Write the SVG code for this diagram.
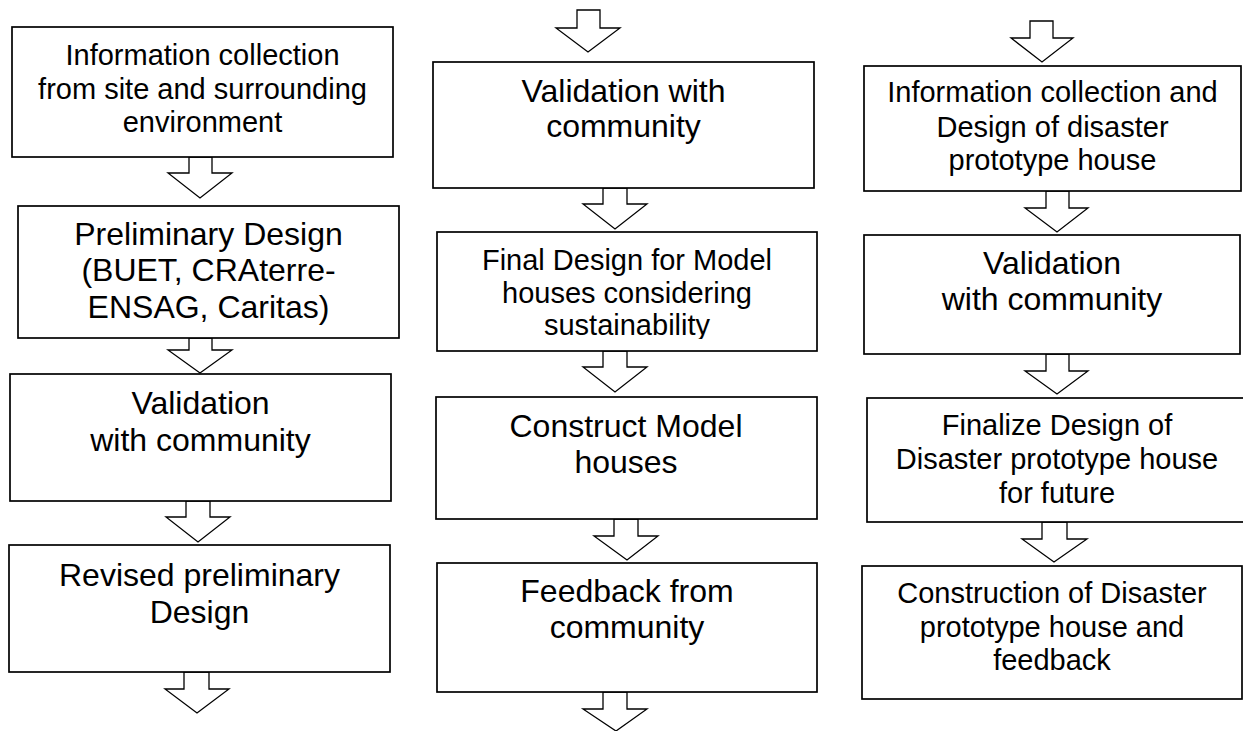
<svg xmlns="http://www.w3.org/2000/svg" width="1243" height="731" viewBox="0 0 1243 731">
<style>
.box{fill:#fff;stroke:#000;stroke-width:1.7}
.arr{fill:#fff;stroke:#000;stroke-width:1.3;stroke-linejoin:miter}
text{font-family:"Liberation Sans",Arial,sans-serif;fill:#000;text-anchor:middle}
.s{font-size:29px}
.l{font-size:32px}
</style>
<defs>
<clipPath id="clipF"><rect x="437" y="232" width="380" height="107"/></clipPath>
</defs>
<rect width="1243" height="731" fill="#fff"/>
<g id="connectors">
<polygon class="arr" points="189,157 189,173 168,173 200,198 232,173 212,173 212,157"/>
<polygon class="arr" points="189,338 189,350 168,350 200,373 232,350 212,350 212,338"/>
<polygon class="arr" points="186,501 186,517 166,517 198,542 230,517 210,517 210,501"/>
<polygon class="arr" points="184,672 184,689 165,689 197,713 229,689 209,689 209,672"/>
<polygon class="arr" points="577,10 577,28 556,28 588,52 620,28 600,28 600,10"/>
<polygon class="arr" points="603,188 603,204 583,204 615,229 647,204 627,204 627,188"/>
<polygon class="arr" points="603,351 603,367 583,367 615,392 647,367 627,367 627,351"/>
<polygon class="arr" points="614,519 614,536 594,536 627,560 658,536 638,536 638,519"/>
<polygon class="arr" points="603,692 603,709 583,709 616,731 647,709 627,709 627,692"/>
<polygon class="arr" points="1030,21 1030,38 1011,38 1042,62 1073,38 1053,38 1053,21"/>
<polygon class="arr" points="1046,191 1046,208 1025,208 1057,232 1088,208 1069,208 1069,191"/>
<polygon class="arr" points="1046,354 1046,371 1025,371 1057,394 1088,371 1069,371 1069,354"/>
<polygon class="arr" points="1042,522 1042,539 1022,539 1054,562 1087,539 1067,539 1067,522"/>
</g>
<g id="nodeA">
<rect class="box" x="12" y="27" width="381" height="130"/>
<text class="s" x="202.5" y="65">Information collection</text>
<text class="s" x="202.5" y="99">from site and surrounding</text>
<text class="s" x="202.5" y="132">environment</text>
</g>
<g id="nodeB">
<rect class="box" x="18" y="206" width="381" height="132"/>
<text class="l" x="208.5" y="245">Preliminary Design</text>
<text class="l" x="208.5" y="281">(BUET, CRAterre-</text>
<text class="l" x="208.5" y="318">ENSAG, Caritas)</text>
</g>
<g id="nodeC">
<rect class="box" x="10" y="374" width="381" height="127"/>
<text class="l" x="200.5" y="414">Validation</text>
<text class="l" x="200.5" y="451">with community</text>
</g>
<g id="nodeD">
<rect class="box" x="9" y="545" width="381" height="127"/>
<text class="l" x="199.5" y="586">Revised preliminary</text>
<text class="l" x="199.5" y="623">Design</text>
</g>
<g id="nodeE">
<rect class="box" x="433" y="62" width="381" height="126"/>
<text class="l" x="623.5" y="102">Validation with</text>
<text class="l" x="623.5" y="137">community</text>
</g>
<g id="nodeF">
<rect class="box" x="437" y="232" width="380" height="119"/>
<g clip-path="url(#clipF)">
<text class="s" x="627" y="270">Final Design for Model</text>
<text class="s" x="627" y="303">houses considering</text>
<text class="s" x="627" y="335">sustainability</text>
</g>
</g>
<g id="nodeG">
<rect class="box" x="436" y="397" width="381" height="122"/>
<text class="l" x="626" y="437">Construct Model</text>
<text class="l" x="626" y="473">houses</text>
</g>
<g id="nodeH">
<rect class="box" x="437" y="563" width="380" height="129"/>
<text class="l" x="627" y="602">Feedback from</text>
<text class="l" x="627" y="638">community</text>
</g>
<g id="nodeI">
<rect class="box" x="864" y="66" width="377" height="125"/>
<text class="s" x="1052.5" y="102">Information collection and</text>
<text class="s" x="1052.5" y="137">Design of disaster</text>
<text class="s" x="1052.5" y="170">prototype house</text>
</g>
<g id="nodeJ">
<rect class="box" x="864" y="235" width="376" height="119"/>
<text class="l" x="1052" y="274">Validation</text>
<text class="l" x="1052" y="310">with community</text>
</g>
<g id="nodeK">
<rect class="box" x="867" y="398" width="380" height="124"/>
<text class="s" x="1057" y="435">Finalize Design of</text>
<text class="s" x="1057" y="469">Disaster prototype house</text>
<text class="s" x="1057" y="503">for future</text>
</g>
<g id="nodeL">
<rect class="box" x="862" y="566" width="380" height="133"/>
<text class="s" x="1052" y="603">Construction of Disaster</text>
<text class="s" x="1052" y="637">prototype house and</text>
<text class="s" x="1052" y="670">feedback</text>
</g>
</svg>
